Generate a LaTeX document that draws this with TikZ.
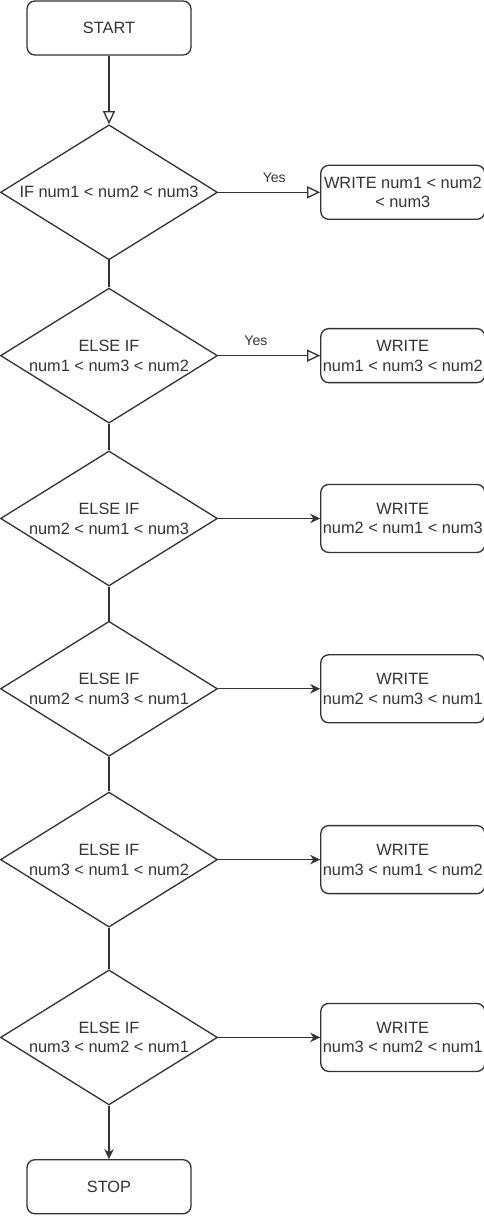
\documentclass[tikz,border=0pt]{standalone}
\usepackage{fontspec}
\setmainfont{Liberation Sans}
\usepackage{tikz}
\usetikzlibrary{arrows.meta,positioning,shapes.geometric}
\definecolor{ink}{HTML}{333333}

\begin{document}
\begin{tikzpicture}[
  node distance=0.6cm,
  term/.style={rectangle, draw=ink, fill=white, rounded corners=4.5pt, line width=0.75pt,
               text=ink, font=\fontsize{9.3}{11.3}\selectfont, align=center,
               minimum width=3.28cm, minimum height=1.08cm, inner sep=1pt},
  outbox/.style={term, minimum height=1.36cm},
  cond/.style={diamond, draw=ink, fill=white, line width=0.75pt, text=ink,
               font=\fontsize{9.3}{11.3}\selectfont, align=center, shape aspect=1.607,
               minimum width=4.34cm, minimum height=2.7cm, inner sep=0pt},
  link/.style={draw=ink, line width=0.75pt},
  yesarr/.style={link, -{Triangle[fill=white, length=0.26cm, width=0.24cm]}},
  arr/.style={link, -{Stealth[length=0.2cm, width=0.19cm]}},
  yes/.style={above=2pt, text=ink, font=\fontsize{8}{9}\selectfont}
]
\fill[white] (0,0) rectangle (9.68,-24.32);
\useasboundingbox (0,0) rectangle (9.68,-24.32);

% main column
\node[term] (start) at (2.18,-0.56) {START};
\node[cond, below=1.37cm of start] (c1) {IF num1 < num2 < num3};
\node[cond, below=0.54cm of c1] (c2) {ELSE IF\\num1 < num3 < num2};
\node[cond, below=0.53cm of c2] (c3) {ELSE IF\\num2 < num1 < num3};
\node[cond, below=0.68cm of c3] (c4) {ELSE IF\\num2 < num3 < num1};
\node[cond, below=0.69cm of c4] (c5) {ELSE IF\\num3 < num1 < num2};
\node[cond, below=0.83cm of c5] (c6) {ELSE IF\\num3 < num2 < num1};
\node[term, below=1.07cm of c6] (stop) {STOP};

% outputs
\node[term, right=2.04cm of c1] (w1) {WRITE num1 < num2\\< num3};
\node[term, right=2.04cm of c2] (w2) {WRITE\\num1 < num3 < num2};
\node[outbox, right=2.04cm of c3] (w3) {WRITE\\num2 < num1 < num3};
\node[outbox, right=2.04cm of c4] (w4) {WRITE\\num2 < num3 < num1};
\node[outbox, right=2.04cm of c5] (w5) {WRITE\\num3 < num1 < num2};
\node[outbox, right=2.04cm of c6] (w6) {WRITE\\num3 < num2 < num1};

\draw[yesarr] (start) -- (c1);
\draw[link] (c1) -- (c2);
\draw[link] (c2) -- (c3);
\draw[link] (c3) -- (c4);
\draw[link] (c4) -- (c5);
\draw[link] (c5) -- (c6);
\draw[arr] (c6) -- (stop);

\draw[yesarr] (c1) -- node[yes, pos=0.55] {Yes} (w1);
\draw[yesarr] (c2) -- node[yes, pos=0.37] {Yes} (w2);
\draw[arr] (c3) -- (w3);
\draw[arr] (c4) -- (w4);
\draw[arr] (c5) -- (w5);
\draw[arr] (c6) -- (w6);
\end{tikzpicture}
\end{document}
